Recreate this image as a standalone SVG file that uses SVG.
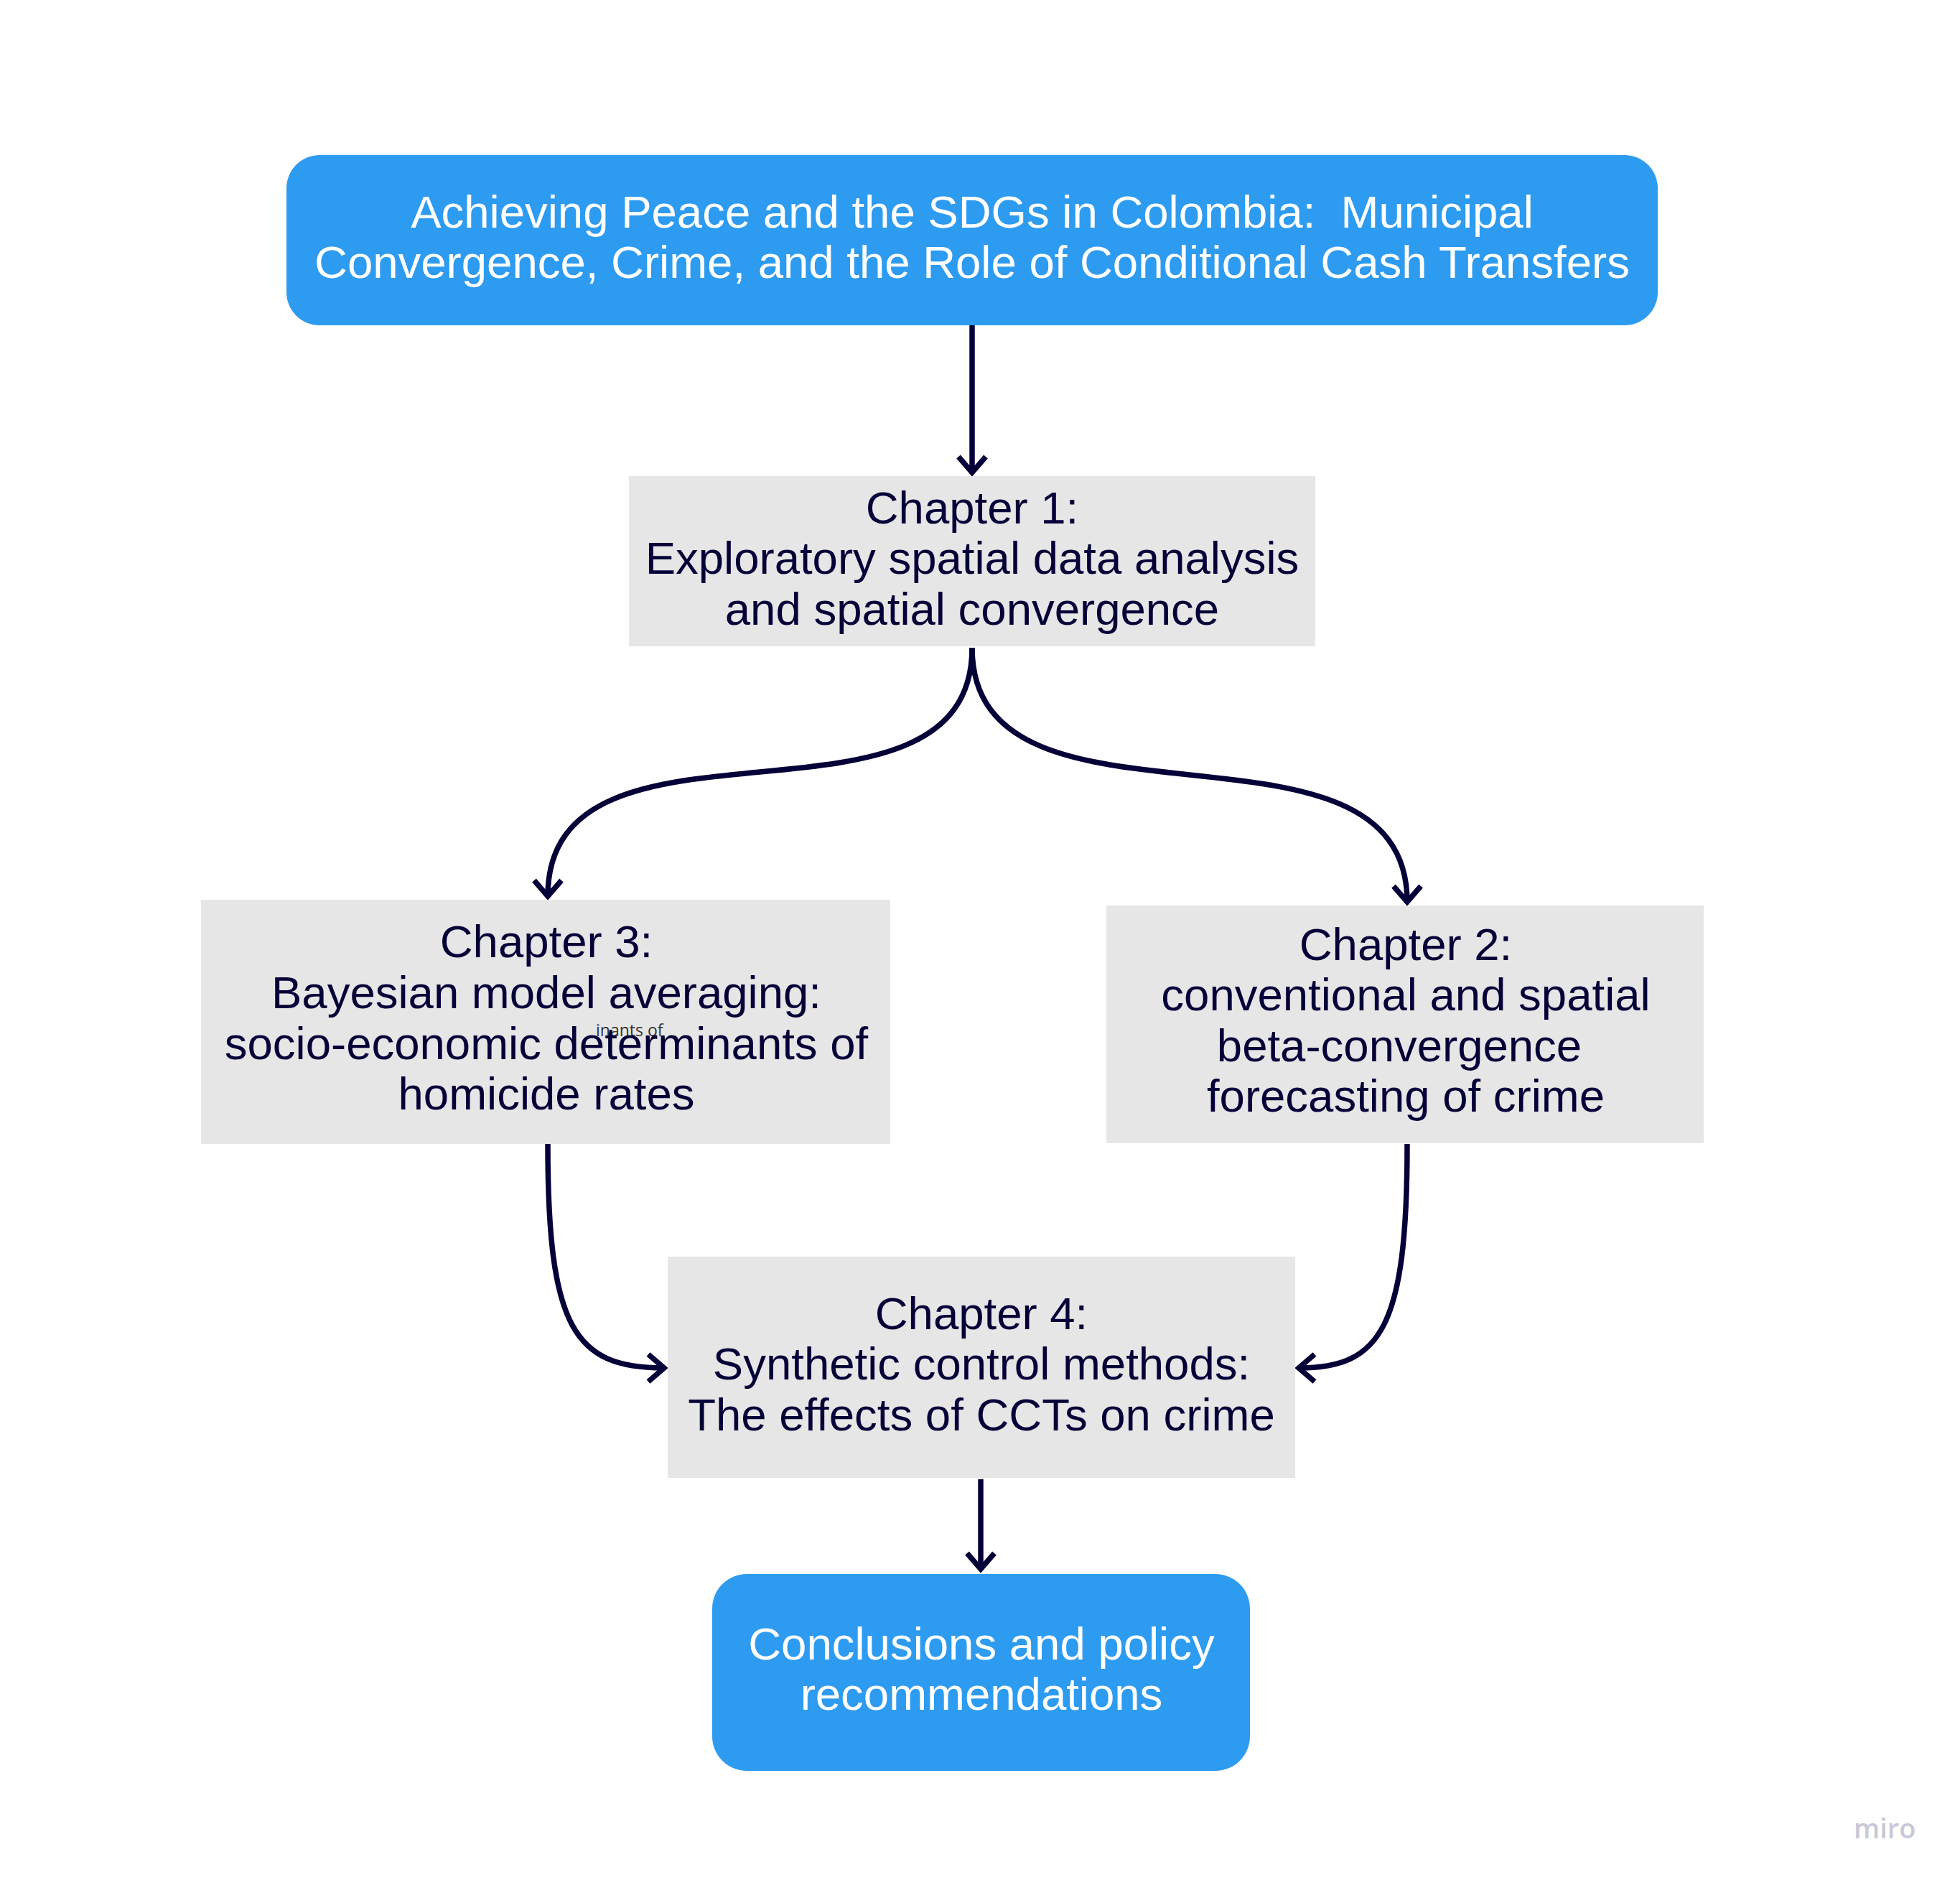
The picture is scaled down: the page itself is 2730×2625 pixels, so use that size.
<svg xmlns="http://www.w3.org/2000/svg" width="2730" height="2625" viewBox="0 0 2730 2625">
  <style>
    .blue { fill: #2d9bf0; }
    .gray { fill: #e6e6e6; }
    .t { font-family: "Liberation Sans", Arial, sans-serif; font-size: 63.5px; text-anchor: middle; }
    .dark { fill: #050038; }
    .white { fill: #ffffff; }
    .conn { fill: none; stroke: #050038; stroke-width: 7.5; marker-end: url(#arrow); }
  </style>
  <defs>
    <marker id="arrow" markerUnits="userSpaceOnUse" orient="auto" refX="0" refY="0" markerWidth="60" markerHeight="60" viewBox="-40 -30 60 60" overflow="visible">
      <path d="M -22,-19 L 0,0 L -22,19" fill="none" stroke="#050038" stroke-width="7.5" stroke-linejoin="miter"/>
    </marker>
  </defs>
  <rect width="2730" height="2625" fill="#ffffff"/>

  <g id="connectors">
    <path class="conn" d="M1354,453 L1354,658"/>
    <path class="conn" d="M1354,902 C1354,1192 763,958 763,1248"/>
    <path class="conn" d="M1354,902 C1354,1192 1960,966 1960,1256"/>
    <path class="conn" d="M763,1593 C763,1850 800,1905 925,1905"/>
    <path class="conn" d="M1960,1593 C1960,1850 1923,1905 1809,1905"/>
    <path class="conn" d="M1366,2060 L1366,2185"/>
  </g>

  <g id="title">
    <rect class="blue" x="399" y="216" width="1910" height="237" rx="46" ry="46"/>
    <text class="t white" style="white-space:pre" x="1354" y="317">Achieving Peace and the SDGs in Colombia:  Municipal</text>
    <text class="t white" x="1354" y="387">Convergence, Crime, and the Role of Conditional Cash Transfers</text>
  </g>

  <g id="chapter1">
    <rect class="gray" x="876" y="663" width="956" height="237"/>
    <text class="t dark" x="1354" y="729">Chapter 1:</text>
    <text class="t dark" x="1354" y="799">Exploratory spatial data analysis</text>
    <text class="t dark" x="1354" y="870">and spatial convergence</text>
  </g>

  <g id="chapter3">
    <rect class="gray" x="280" y="1253" width="960" height="340"/>
    <text class="t dark" x="761" y="1333">Chapter 3:</text>
    <text class="t dark" x="761" y="1404">Bayesian model averaging:</text>
    <text font-family="'Open Sans', 'Liberation Sans', sans-serif" font-size="23" fill="#333333" x="830" y="1443">inants of</text>
    <text class="t dark" x="761" y="1475">socio-economic determinants of</text>
    <text class="t dark" x="761" y="1545">homicide rates</text>
  </g>

  <g id="chapter2">
    <rect class="gray" x="1541" y="1261" width="832" height="331"/>
    <text class="t dark" x="1958" y="1337">Chapter 2:</text>
    <text class="t dark" x="1958" y="1407">conventional and spatial</text>
    <text class="t dark" x="1949" y="1478">beta-convergence</text>
    <text class="t dark" x="1958" y="1548">forecasting of crime</text>
  </g>

  <g id="chapter4">
    <rect class="gray" x="930" y="1750" width="874" height="308"/>
    <text class="t dark" x="1367" y="1851">Chapter 4:</text>
    <text class="t dark" x="1367" y="1921">Synthetic control methods:</text>
    <text class="t dark" x="1367" y="1992">The effects of CCTs on crime</text>
  </g>

  <g id="conclusions">
    <rect class="blue" x="992" y="2192" width="749" height="274" rx="48" ry="48"/>
    <text class="t white" x="1367" y="2311">Conclusions and policy</text>
    <text class="t white" x="1367" y="2381">recommendations</text>
  </g>

  <text x="2582" y="2560" font-family="'Open Sans', 'Liberation Sans', sans-serif" font-size="38" font-weight="600" fill="#c8c8d8">miro</text>
</svg>
